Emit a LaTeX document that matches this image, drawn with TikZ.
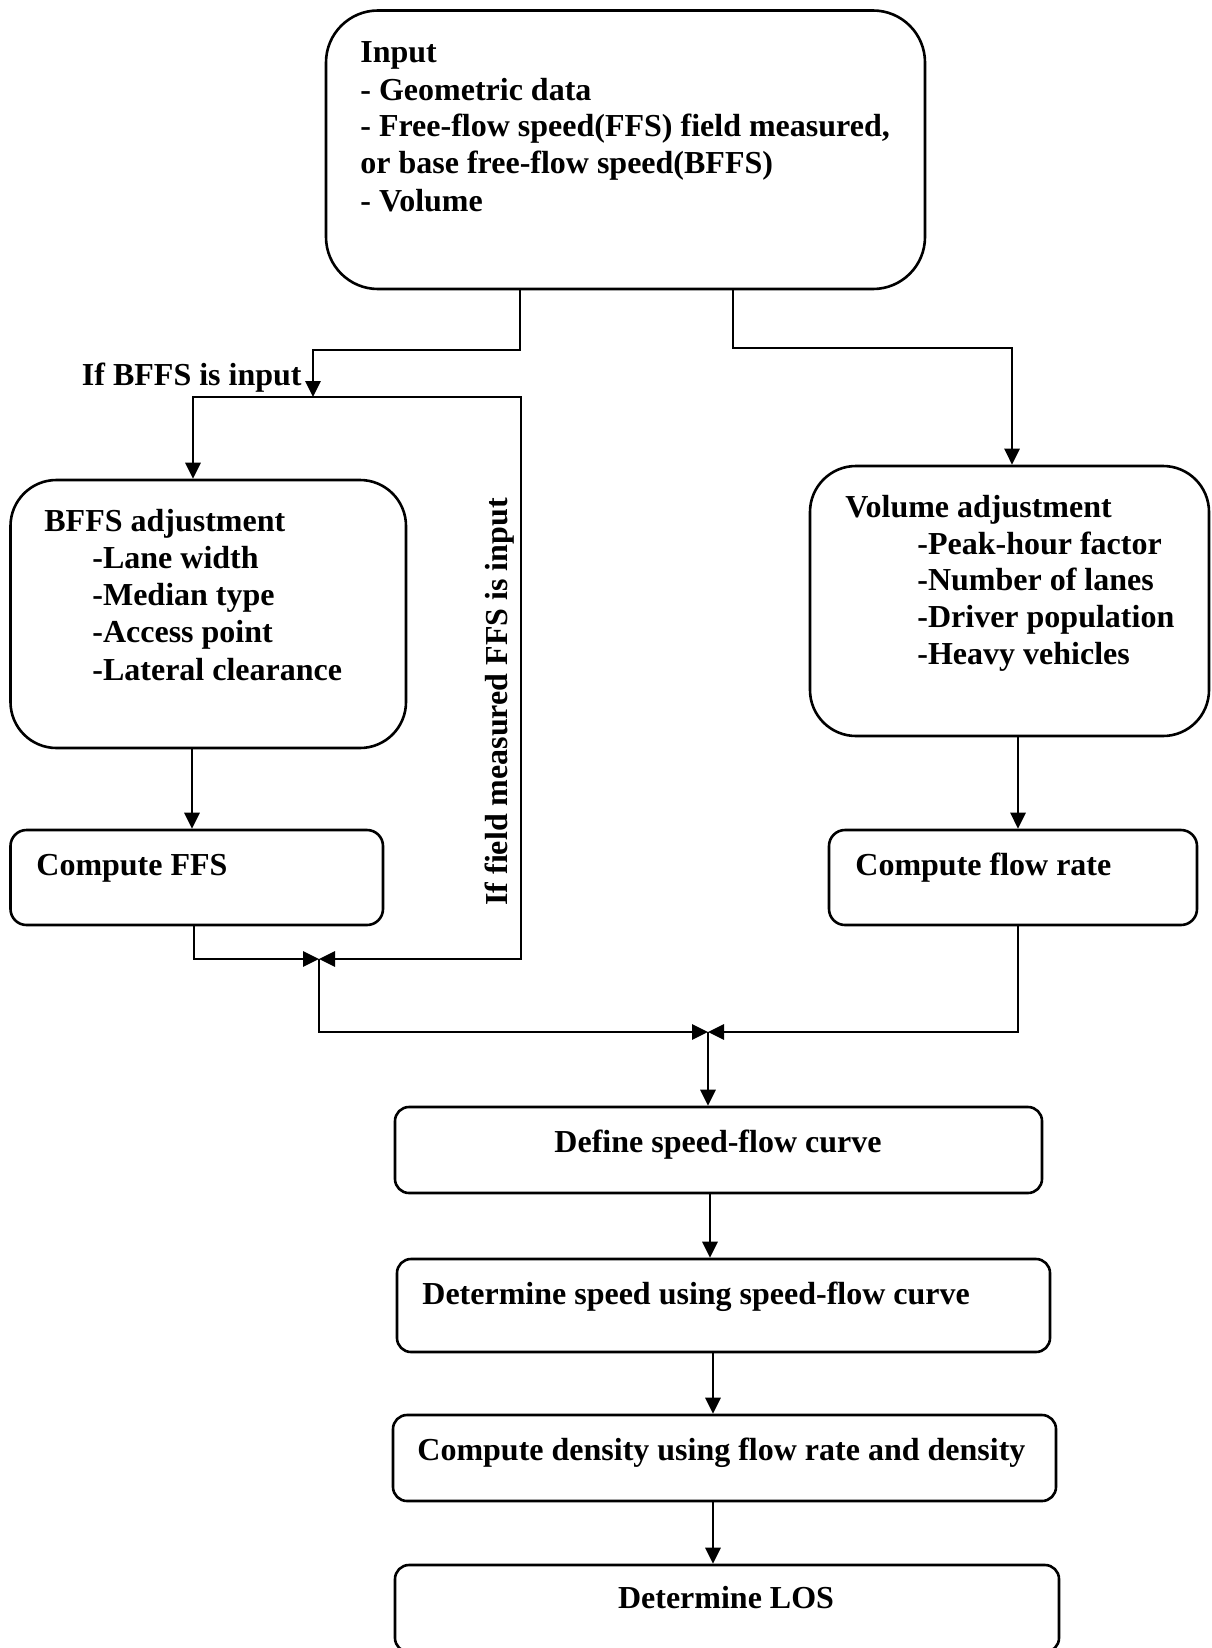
\documentclass[tikz,border=0pt]{standalone}
\usepackage{fontspec}
\setmainfont{Liberation Serif}
\usetikzlibrary{arrows.meta,fit}
\begin{document}
\begin{tikzpicture}[x=0.5pt,y=-0.5pt,
  box/.style={draw, line width=1.3pt, inner sep=0pt},
  txt/.style={anchor=base west, inner sep=0pt, font=\fontsize{16}{18.5}\selectfont\bfseries},
  ctxt/.style={anchor=base, inner sep=0pt, font=\fontsize{16}{18.5}\selectfont\bfseries},
  con/.style={line width=1.4pt},
  arr/.style={con, -{Triangle[length=8pt,width=7.5pt]}},
  darr/.style={con, {Triangle[length=8pt,width=7.5pt]}-{Triangle[length=8pt,width=7.5pt]}}]
\useasboundingbox (0,0) rectangle (1211,1648);

% boxes
\node[box, rounded corners=26pt, fit={(326,10.5) (925,289)}] (inp) {};
\node[box, rounded corners=23pt, fit={(10.5,480) (406,748)}] (bffs) {};
\node[box, rounded corners=23pt, fit={(810,466) (1209,736)}] (vol) {};
\node[box, rounded corners=8pt, fit={(10.5,830) (383,925)}] (cffs) {};
\node[box, rounded corners=8pt, fit={(829,830) (1197,925)}] (cfr) {};
\node[box, rounded corners=7pt, fit={(395,1107) (1042,1193)}] (dsf) {};
\node[box, rounded corners=7pt, fit={(397,1259) (1050,1352)}] (dsp) {};
\node[box, rounded corners=7pt, fit={(393,1415) (1056,1501)}] (cd) {};
\node[box, rounded corners=7pt, fit={(395,1565) (1059,1652)}] (los) {};

% texts
\node[txt] (i1) at (360,63) {Input};
\node[txt] (i2) at (360,100.5) {- Geometric data};
\node[txt] (i3) at (360,137) {- Free-flow speed(FFS) field measured,};
\node[txt] (i4) at (360,174) {or base free-flow speed(BFFS)};
\node[txt] (i5) at (360,211.5) {- Volume};

\node[txt] (b1t) at (44,531.5) {BFFS adjustment};
\node[txt] (b2t) at (92,568) {-Lane width};
\node[txt] (b3t) at (92,605) {-Median type};
\node[txt] (b4t) at (92,642) {-Access point};
\node[txt] (b5t) at (92,680) {-Lateral clearance};

\node[txt] (v1t) at (845,517) {Volume adjustment};
\node[txt] (v2t) at (917,554) {-Peak-hour factor};
\node[txt] (v3t) at (917,590) {-Number of lanes};
\node[txt] (v4t) at (917,627) {-Driver population};
\node[txt] (v5t) at (917,664) {-Heavy vehicles};

\node[txt] (cffst) at (36,875) {Compute FFS};
\node[txt] (cfrt) at (855,875) {Compute flow rate};
\node[ctxt] (dsft) at (718,1152) {Define speed-flow curve};
\node[txt] (dspt) at (422,1304) {Determine speed using speed-flow curve};
\node[txt] (cdt) at (417,1460) {Compute density using flow rate and density};
\node[ctxt] (lost) at (726,1608) {Determine LOS};

\node[anchor=base east, inner sep=0pt, font=\fontsize{16}{18.5}\selectfont\bfseries] (lbffs) at (302,385) {If BFFS is input};
\node[rotate=90, inner sep=0pt, font=\fontsize{16}{18.5}\selectfont\bfseries] (lffs) at (500,702) {If field measured FFS is input};

% coordinates
\coordinate (a1) at (520,350);
\coordinate (a2) at (313,397);
\coordinate (l1) at (193,397);
\coordinate (l2) at (521,397);
\coordinate (j1) at (319,959);
\coordinate (c1) at (194,959);
\coordinate (j2) at (708,1032);
\coordinate (c2) at (1018,1032);
\coordinate (r1) at (733,348);
\coordinate (r2) at (1012,348);
\coordinate (x192) at (192,0);
\coordinate (x1018) at (1018,0);
\coordinate (x710) at (710,0);
\coordinate (x713) at (713,0);

% connectors
\draw[arr] (inp.south -| a1) -- (a1) -| (a2);
\draw[darr] (bffs.north -| l1) -- (l1) -- (l2) |- (j1);
\draw[arr] (inp.south -| r1) -- (r1) -- (r2) -- (vol.north -| r2);
\draw[arr] (bffs.south -| x192) -- (cffs.north -| x192);
\draw[arr] (vol.south -| x1018) -- (cfr.north -| x1018);
\draw[arr] (cffs.south -| c1) |- (j1);
\draw[arr] (j1) |- (j2);
\draw[arr] (cfr.south -| c2) |- (j2);
\draw[arr] (j2) -- (dsf.north -| j2);
\draw[arr] (dsf.south -| x710) -- (dsp.north -| x710);
\draw[arr] (dsp.south -| x713) -- (cd.north -| x713);
\draw[arr] (cd.south -| x713) -- (los.north -| x713);
\end{tikzpicture}
\end{document}
